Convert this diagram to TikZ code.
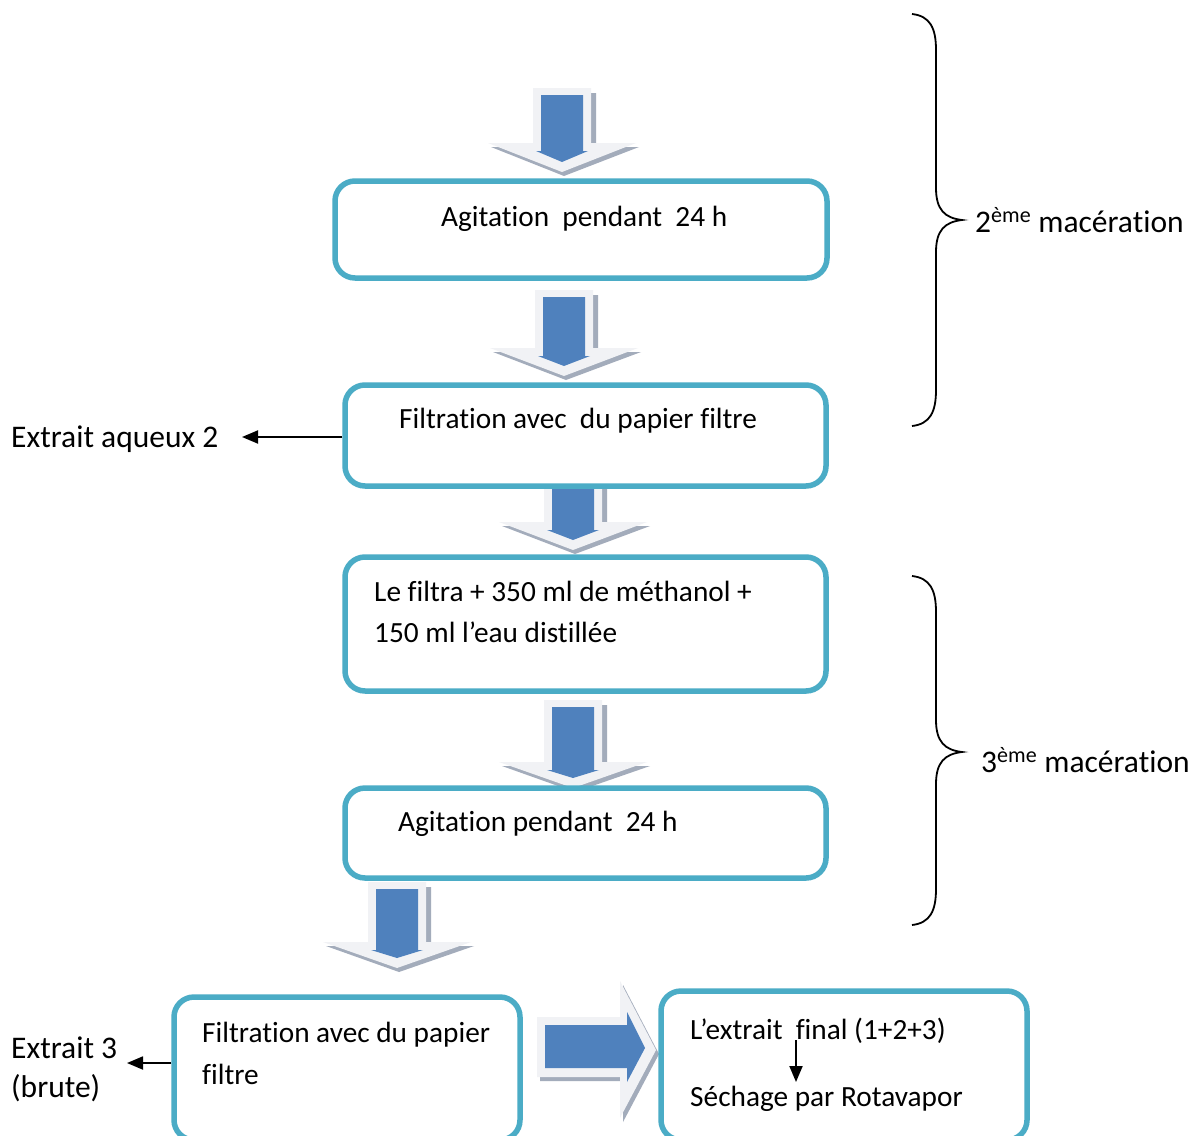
\documentclass[tikz,border=0pt]{standalone}
\usepackage{fontspec}
\setmainfont{Carlito}[Ligatures={NoCommon,NoContextual},RawFeature={-liga;-clig;-calt}]
\usetikzlibrary{arrows.meta}
\definecolor{boxteal}{HTML}{4BACC6}
\definecolor{arrblue}{HTML}{4F81BD}
\definecolor{arrframe}{HTML}{F1F2F5}
\definecolor{arrshadow}{HTML}{A3ACBB}
\tikzset{
  box/.style={draw=boxteal, line width=5.5pt, rounded corners=20pt, fill=white},
  txt/.style={anchor=base west, inner sep=0pt, font=\fontsize{29.3}{35}\selectfont},
  lbl/.style={anchor=base west, inner sep=0pt, font=\fontsize{31.5}{38}\selectfont},
  conn/.style={line width=1.9pt, -{Triangle[length=16pt,width=13pt]}},
  brace/.style={line width=1.8pt},
  arrowblue/.style={fill=arrblue},
  arrowframe/.style={fill=arrframe},
  arrowshadow/.style={fill=arrshadow},
}
\newcommand\blkdown[4]{%
  \fill[arrowshadow] ({#1-25},{#2+5}) -- ({#1+34},{#2+5}) -- ({#1+34},{#3+4}) -- ({#1+77},{#3+4}) -- ({#1+2},{#4+4}) -- ({#1-71},{#3+4}) -- ({#1-25},{#3+4}) -- cycle;
  \fill[arrowframe] ({#1-29},{#2}) -- ({#1+29},{#2}) -- ({#1+29},{#3}) -- ({#1+74},{#3}) -- ({#1},{#4}) -- ({#1-74},{#3}) -- ({#1-29},{#3}) -- cycle;
  \fill[arrowblue] ({#1-21},{#2+7}) -- ({#1+21},{#2+7}) -- ({#1+21},{#3+8}) -- ({#1+26},{#3+8}) -- ({#1},{#4-10}) -- ({#1-26},{#3+8}) -- ({#1-21},{#3+8}) -- cycle;
}
\begin{document}
\begin{tikzpicture}[x=1pt,y=-1pt]
\useasboundingbox (0,0) rectangle (1193,1135);
\clip (0,0) rectangle (1193,1135);
\fill[white] (0,0) rectangle (1193,1135);

% block arrows
\blkdown{562}{88}{143}{172}
\blkdown{564}{290}{348}{376}
\blkdown{573}{478}{522}{550}
\blkdown{573}{700}{762}{788}
\blkdown{397}{882}{942}{968}
% horizontal block arrow
\fill[arrowshadow] (540,1021) -- (623,1021) -- (623,985) -- (659,1054) -- (623,1122) -- (623,1081) -- (540,1081) -- cycle;
\fill[arrowframe] (537,1017) -- (620,1017) -- (620,981) -- (656,1050) -- (620,1118) -- (620,1077) -- (537,1077) -- cycle;
\fill[arrowblue] (545,1025) -- (627,1025) -- (627,1012) -- (645,1048) -- (627,1082) -- (627,1068) -- (545,1068) -- cycle;

% boxes
\node[box, minimum width=492pt, minimum height=97pt] (b1) at (581,229.5) {};
\node[box, minimum width=481pt, minimum height=101pt] (b2) at (585.5,435.5) {};
\node[box, minimum width=481pt, minimum height=134pt] (b3) at (585.5,624) {};
\node[box, minimum width=481pt, minimum height=90pt] (b4) at (585.5,833) {};
\node[box, minimum width=346pt, minimum height=143pt] (b5) at (347,1068.5) {};
\node[box, minimum width=366pt, minimum height=149pt] (b6) at (844,1065.5) {};

% texts
\node[txt] (t1) at (441,226) {Agitation\ \ pendant\ \ 24 h};
\node[txt] (t2) at (399,428) {Filtration avec\ \ du papier filtre};
\node[txt] (t3a) at (374,601) {Le filtra + 350 ml de méthanol +};
\node[txt] (t3b) at (374,642) {150 ml l’eau distillée};
\node[txt] (t4) at (398,831) {Agitation pendant\ \ 24 h};
\node[txt] (t5a) at (202,1042) {Filtration avec du papier};
\node[txt] (t5b) at (202,1084) {filtre};
\node[txt] (t6a) at (690,1039) {L’extrait\ \ final (1+2+3)};
\node[txt] (t6b) at (690,1106) {Séchage par Rotavapor};

% side labels
\node[lbl] (l2) at (11,447) {Extrait aqueux 2};
\node[lbl] (l3a) at (11,1058) {Extrait 3};
\node[lbl] (l3b) at (11,1097) {(brute)};
\node[lbl] (m2) at (975,232) {2\textsuperscript{ème} macération};
\node[lbl] (m3) at (981,772) {3\textsuperscript{ème} macération};

% connectors
\coordinate (a2) at (242,437);
\coordinate (a3) at (127,1063);
\draw[conn] (b2.west |- a2) -- (a2);
\draw[conn] (b5.west |- a3) -- (a3);
\coordinate (s6) at (796,1040);
\coordinate (e6) at (796,1082);
\draw[conn] (s6) -- (e6);

% braces
\draw[brace] (912,14) .. controls (930,16) and (936,28) .. (936,50) -- (936,188)
  .. controls (936,210) and (945,218) .. (962,220)
  .. controls (945,222) and (936,230) .. (936,252) -- (936,390)
  .. controls (936,412) and (930,424) .. (912,426);
\draw[brace] (912,576) .. controls (930,578) and (936,590) .. (936,612) -- (936,720)
  .. controls (936,742) and (945,750) .. (962,752)
  .. controls (945,754) and (936,762) .. (936,784) -- (936,889)
  .. controls (936,911) and (930,923) .. (912,925);
\end{tikzpicture}
\end{document}
